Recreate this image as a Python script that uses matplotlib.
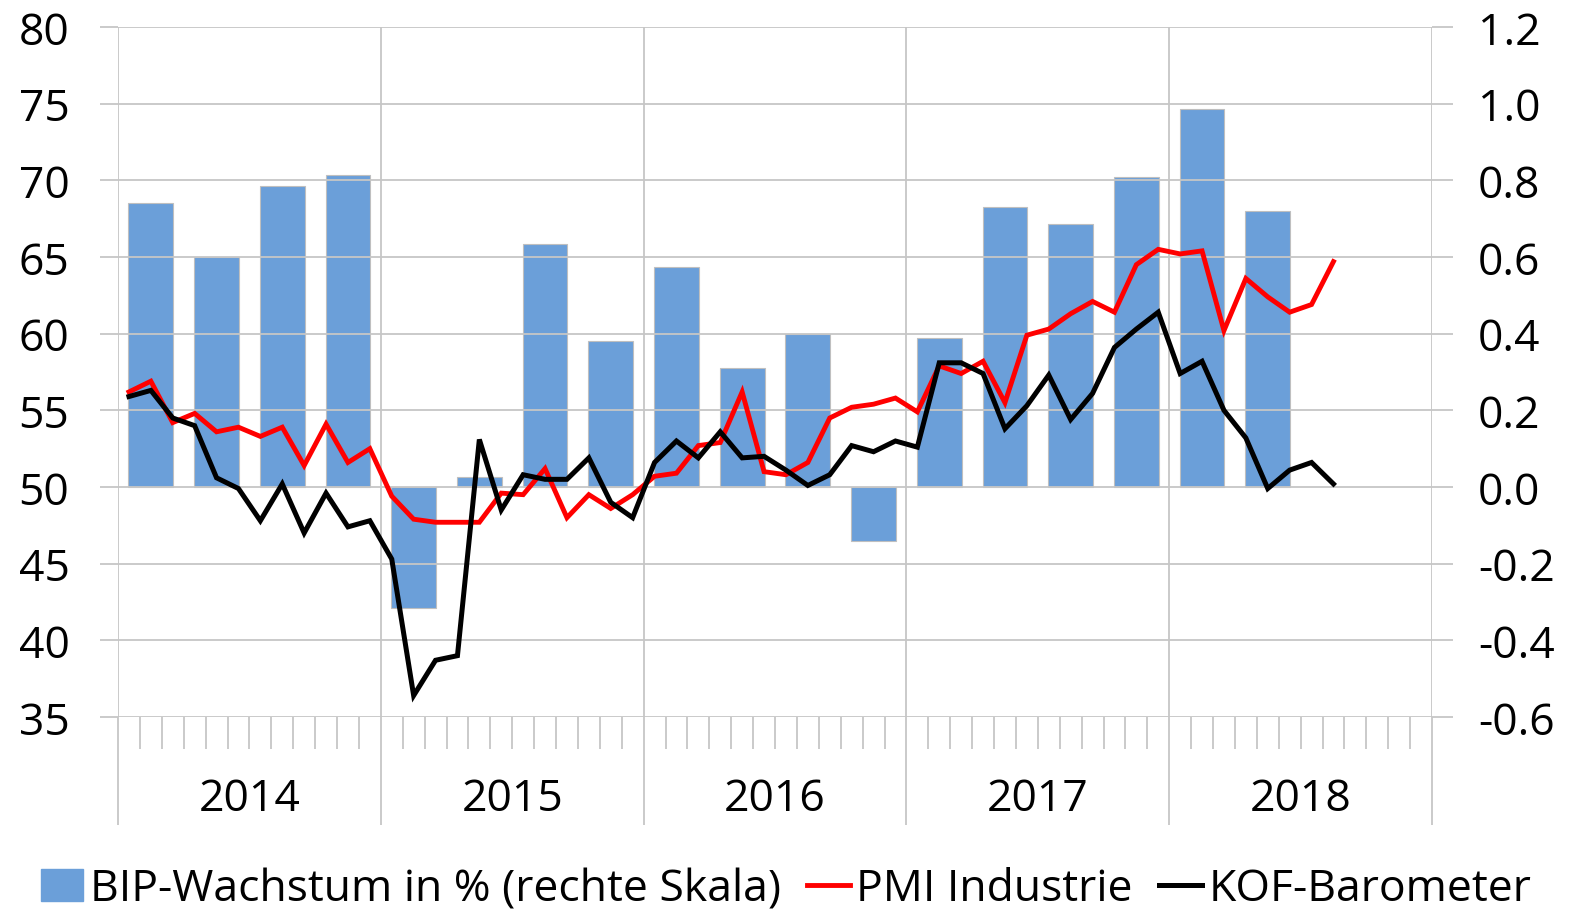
import matplotlib
matplotlib.use("Agg")
import matplotlib.pyplot as plt
import numpy as np
from matplotlib.patches import Patch
from matplotlib.lines import Line2D
from matplotlib.transforms import blended_transform_factory

plt.rcParams['font.family'] = ['Open Sans', 'DejaVu Sans']

years = ["2014", "2015", "2016", "2017", "2018"]

# Quarterly GDP growth in % (right scale), Q1 2014 .. Q2 2018
gdp = [0.74, 0.60, 0.785, 0.815,
       -0.315, 0.025, 0.635, 0.38,
       0.575, 0.31, 0.40, -0.14,
       0.39, 0.73, 0.685, 0.81,
       0.985, 0.72]

# Monthly PMI Industrie, Jan 2014 .. Aug 2018
pmi = [56.2, 56.9, 54.2, 54.8, 53.6, 53.9, 53.3, 53.9, 51.4, 54.1, 51.6, 52.5,
       49.4, 47.9, 47.7, 47.7, 47.7, 49.6, 49.5, 51.2, 48.0, 49.5, 48.6, 49.5,
       50.7, 50.9, 52.7, 52.9, 56.2, 51.0, 50.8, 51.6, 54.5, 55.2, 55.4, 55.8,
       54.9, 57.9, 57.4, 58.2, 55.5, 59.9, 60.3, 61.3, 62.1, 61.4, 64.5, 65.5,
       65.2, 65.4, 60.2, 63.6, 62.4, 61.4, 61.9, 64.7]

# Monthly KOF-Barometer, Jan 2014 .. Aug 2018
kof = [55.9, 56.3, 54.5, 54.0, 50.6, 49.9, 47.8, 50.2, 47.0, 49.6, 47.4, 47.8,
       45.3, 36.4, 38.7, 39.0, 53.1, 48.5, 50.8, 50.5, 50.5, 51.9, 49.0, 48.0,
       51.6, 53.0, 51.9, 53.6, 51.9, 52.0, 51.1, 50.1, 50.8, 52.7, 52.3, 53.0,
       52.6, 58.1, 58.1, 57.4, 53.8, 55.3, 57.3, 54.4, 56.1, 59.1, 60.3, 61.4,
       57.4, 58.2, 55.0, 53.2, 49.9, 51.1, 51.6, 50.2]

left_ticks = [35, 40, 45, 50, 55, 60, 65, 70, 75, 80]
right_ticks = [-0.6, -0.4, -0.2, 0.0, 0.2, 0.4, 0.6, 0.8, 1.0, 1.2]

GRID = "#c6c6c6"
BAR = "#6b9fd9"
FS = 32

fig = plt.figure(figsize=(15.72, 9.12), dpi=100)
ax = fig.add_axes([118/1572, 1-718/912, (1432-118)/1572, 690/912])  # right scale (bars)
ax2 = ax.twinx()  # left scale (lines), drawn on top

n_months = 12 * len(years)
q_centers = np.arange(len(gdp)) * 3 + 1.5
ax.bar(q_centers, gdp, width=2.05, color=BAR, edgecolor="#bfbfbf", linewidth=0.8, zorder=3)
ax.set_ylim(-0.6, 1.2)
ax.set_xlim(0, n_months)

ax2.plot(np.arange(len(pmi)) + 0.5, pmi, color="#ff0000", lw=3.5, solid_joinstyle="miter", zorder=5)
ax2.plot(np.arange(len(kof)) + 0.5, kof, color="#000000", lw=3.6, solid_joinstyle="miter", zorder=5)
ax2.set_ylim(35, 80)
ax2.set_xlim(0, n_months)

ax.yaxis.tick_right()
ax.yaxis.set_label_position("right")
ax2.yaxis.tick_left()
ax2.yaxis.set_label_position("left")

ax.set_yticks(right_ticks)
ax.set_yticklabels([f"{v:.1f}" for v in right_ticks], fontsize=FS)
ax2.set_yticks(left_ticks)
ax2.set_yticklabels([str(v) for v in left_ticks], fontsize=FS)

ax.tick_params(axis='y', direction='out', length=15, width=1.3, color=GRID, pad=18)
ax2.tick_params(axis='y', direction='out', length=13, width=1.3, color=GRID, pad=22)

ax2.grid(axis='y', color=GRID, lw=1.3, zorder=0)
ax.set_axisbelow(True)
ax2.set_axisbelow(True)

ax.set_xticks(np.arange(0, n_months + 1, 12))
ax.set_xticklabels([])
ax.set_xticks([i for i in range(n_months + 1) if i % 12 != 0], minor=True)
ax.tick_params(axis='x', which='major', direction='out', length=78, width=1.3, color=GRID)
ax.tick_params(axis='x', which='minor', direction='out', length=23, width=1.3, color=GRID)
ax.grid(axis='x', which='major', color=GRID, lw=1.3, zorder=0)
ax2.tick_params(axis='x', which='both', bottom=False, labelbottom=False)
ax2.patch.set_visible(False)

for sp in list(ax.spines.values()) + list(ax2.spines.values()):
    sp.set_visible(False)

trans = blended_transform_factory(ax.transData, ax.transAxes)
for k, y in enumerate(years):
    ax.text(12 * k + 6, -0.118, y, transform=trans, ha='center', va='center', fontsize=FS)

handles = [Patch(facecolor=BAR, edgecolor=BAR),
           Line2D([], [], color="#ff0000", lw=3.5),
           Line2D([], [], color="#000000", lw=3.6)]
labels = ["BIP-Wachstum in % (rechte Skala)", "PMI Industrie", "KOF-Barometer"]
fig.legend(handles, labels, loc='center', bbox_to_anchor=(0.5, 1-890/912), ncol=3,
           frameon=False, fontsize=FS, handlelength=0.95, handleheight=0.72,
           handletextpad=0.15, columnspacing=0.6, borderpad=0)

fig.savefig("out.png", dpi=100)
